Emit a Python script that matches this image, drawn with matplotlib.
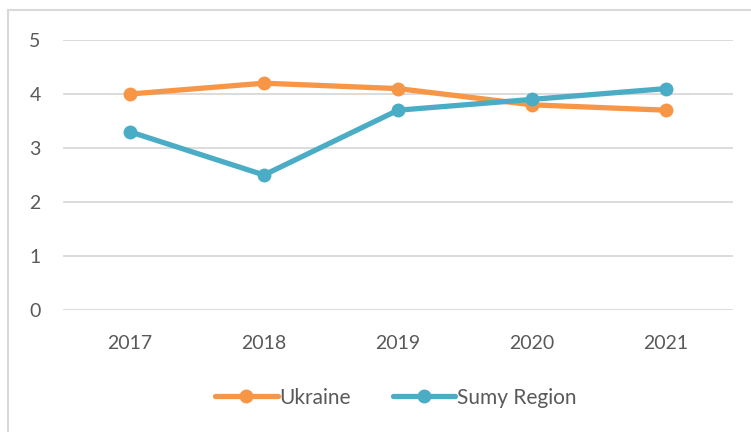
import matplotlib.pyplot as plt
from matplotlib.patches import Rectangle

years = ['2017', '2018', '2019', '2020', '2021']
ukraine = [4.0, 4.2, 4.1, 3.8, 3.7]
sumy = [3.3, 2.5, 3.7, 3.9, 4.1]

plt.rcParams['font.family'] = ['Lato', 'DejaVu Sans']

fig = plt.figure(figsize=(7.51, 4.32), dpi=100)
ax = fig.add_axes([63 / 751, 1 - 310 / 432, 670 / 751, 270 / 432])

x = range(len(years))
ax.plot(x, ukraine, color='#F79646', lw=3.8, marker='o', ms=9,
        solid_capstyle='round', label='Ukraine')
ax.plot(x, sumy, color='#4BACC6', lw=3.8, marker='o', ms=9,
        solid_capstyle='round', label='Sumy Region')

ax.set_xlim(-0.5, 4.5)
ax.set_ylim(0, 5)
ax.set_xticks(list(x))
ax.set_xticklabels(years)
ax.set_yticks(range(6))
ax.yaxis.grid(True, color='#D9D9D9', lw=1.3)
ax.set_axisbelow(True)
for s in ax.spines.values():
    s.set_visible(False)
ax.tick_params(length=0, labelsize=14, colors='#595959', pad=16)
ax.tick_params(axis='x', pad=18)

ax.legend(loc='center', bbox_to_anchor=(0.497, -0.325), ncol=2, frameon=False,
          fontsize=15, labelcolor='#595959', handlelength=3.0,
          handletextpad=0.1, columnspacing=2.0)

fig.patches.append(Rectangle((8 / 751, -0.1), 1.2, 1 - 10 / 432 + 0.1,
                             transform=fig.transFigure, fill=False,
                             edgecolor='#D9D9D9', lw=1.5))

fig.savefig('out.png', dpi=100)
